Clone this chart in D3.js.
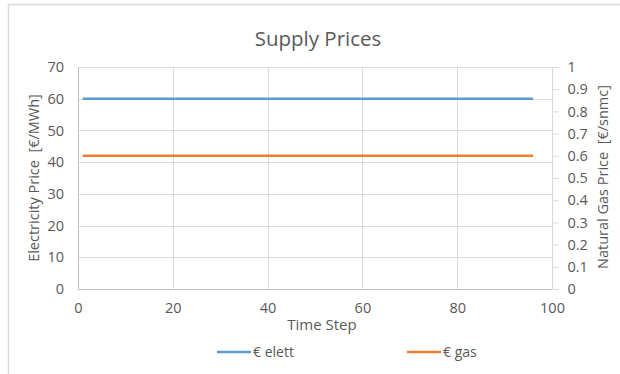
<!DOCTYPE html>
<html>
<head>
<meta charset="utf-8">
<script src="https://cdn.jsdelivr.net/npm/d3@7"></script>
<style>
  html, body { margin: 0; padding: 0; background: #fff; }
  svg { display: block; }
  text { font-family: "Open Sans", Lato, sans-serif; fill: #595959; white-space: pre; }
</style>
</head>
<body>
<svg id="chart" width="620" height="374"></svg>
<script>
// Time steps (quarter hours of one day)
const timeSteps = [
  1, 2, 3, 4, 5, 6, 7, 8, 9, 10, 11, 12, 13, 14, 15, 16,
  17, 18, 19, 20, 21, 22, 23, 24, 25, 26, 27, 28, 29, 30, 31, 32,
  33, 34, 35, 36, 37, 38, 39, 40, 41, 42, 43, 44, 45, 46, 47, 48,
  49, 50, 51, 52, 53, 54, 55, 56, 57, 58, 59, 60, 61, 62, 63, 64,
  65, 66, 67, 68, 69, 70, 71, 72, 73, 74, 75, 76, 77, 78, 79, 80,
  81, 82, 83, 84, 85, 86, 87, 88, 89, 90, 91, 92, 93, 94, 95, 96
];

// Electricity price [€/MWh], left axis
const elettPrice = [
  60, 60, 60, 60, 60, 60, 60, 60, 60, 60, 60, 60, 60, 60, 60, 60,
  60, 60, 60, 60, 60, 60, 60, 60, 60, 60, 60, 60, 60, 60, 60, 60,
  60, 60, 60, 60, 60, 60, 60, 60, 60, 60, 60, 60, 60, 60, 60, 60,
  60, 60, 60, 60, 60, 60, 60, 60, 60, 60, 60, 60, 60, 60, 60, 60,
  60, 60, 60, 60, 60, 60, 60, 60, 60, 60, 60, 60, 60, 60, 60, 60,
  60, 60, 60, 60, 60, 60, 60, 60, 60, 60, 60, 60, 60, 60, 60, 60
];

// Natural gas price [€/snmc], right axis
const gasPrice = [
  0.6, 0.6, 0.6, 0.6, 0.6, 0.6, 0.6, 0.6, 0.6, 0.6, 0.6, 0.6, 0.6, 0.6, 0.6, 0.6,
  0.6, 0.6, 0.6, 0.6, 0.6, 0.6, 0.6, 0.6, 0.6, 0.6, 0.6, 0.6, 0.6, 0.6, 0.6, 0.6,
  0.6, 0.6, 0.6, 0.6, 0.6, 0.6, 0.6, 0.6, 0.6, 0.6, 0.6, 0.6, 0.6, 0.6, 0.6, 0.6,
  0.6, 0.6, 0.6, 0.6, 0.6, 0.6, 0.6, 0.6, 0.6, 0.6, 0.6, 0.6, 0.6, 0.6, 0.6, 0.6,
  0.6, 0.6, 0.6, 0.6, 0.6, 0.6, 0.6, 0.6, 0.6, 0.6, 0.6, 0.6, 0.6, 0.6, 0.6, 0.6,
  0.6, 0.6, 0.6, 0.6, 0.6, 0.6, 0.6, 0.6, 0.6, 0.6, 0.6, 0.6, 0.6, 0.6, 0.6, 0.6
];

const xTicks = [0, 20, 40, 60, 80, 100];
const leftTicks = [0, 10, 20, 30, 40, 50, 60, 70];
const rightTicks = [0, 0.1, 0.2, 0.3, 0.4, 0.5, 0.6, 0.7, 0.8, 0.9, 1];

const seriesNames = ["€ elett", "€ gas"];
const seriesColors = ["#5b9bd5", "#ed7d31"];

const plot = { left: 78, right: 552, top: 67, bottom: 289 };
const gridColor = "#d9d9d9";
const tickFont = 14.5;

const svg = d3.select("#chart");

// chart frame (top and left edges)
svg.append("line").attr("x1", 8.5).attr("x2", 620).attr("y1", 4.5).attr("y2", 4.5)
  .attr("stroke", gridColor).attr("stroke-width", 1.5);
svg.append("line").attr("x1", 8.5).attr("x2", 8.5).attr("y1", 4.5).attr("y2", 374)
  .attr("stroke", gridColor).attr("stroke-width", 1.5);

const x = d3.scaleLinear().domain([0, 100]).range([plot.left, plot.right]);
const yL = d3.scaleLinear().domain([0, 70]).range([plot.bottom, plot.top]);
const yR = d3.scaleLinear().domain([0, 1]).range([plot.bottom, plot.top]);

// gridlines
svg.append("g").selectAll("line").data(leftTicks).join("line")
  .attr("x1", plot.left).attr("x2", plot.right)
  .attr("y1", d => Math.round(yL(d)) + 0.5).attr("y2", d => Math.round(yL(d)) + 0.5)
  .attr("stroke", gridColor);
svg.append("g").selectAll("line").data(xTicks).join("line")
  .attr("x1", d => Math.round(x(d)) + 0.5).attr("x2", d => Math.round(x(d)) + 0.5)
  .attr("y1", plot.top).attr("y2", plot.bottom)
  .attr("stroke", gridColor);

// left axis
const leftAxis = svg.append("g")
  .attr("transform", `translate(${plot.left},0)`)
  .call(d3.axisLeft(yL).tickValues(leftTicks).tickSize(0).tickPadding(14));
leftAxis.select(".domain").remove();
leftAxis.selectAll("text").attr("font-size", tickFont).attr("font-family", null).style("fill", "#595959");

// right axis with small outward ticks
const rightAxis = svg.append("g")
  .attr("transform", `translate(${plot.right + 0.5},0)`)
  .call(d3.axisRight(yR).tickValues(rightTicks).tickSize(6).tickPadding(9)
    .tickFormat(d => d3.format("")(+d.toFixed(1))));
rightAxis.select(".domain").attr("stroke", gridColor).attr("d", `M0,${plot.top}V${plot.bottom}`);
rightAxis.selectAll(".tick line").attr("stroke", gridColor);
rightAxis.selectAll("text").attr("font-size", tickFont).attr("font-family", null).style("fill", "#595959");

// bottom axis
const bottomAxis = svg.append("g")
  .attr("transform", `translate(0,${plot.bottom})`)
  .call(d3.axisBottom(x).tickValues(xTicks).tickSize(0).tickPadding(14));
bottomAxis.select(".domain").remove();
bottomAxis.selectAll("text").attr("font-size", tickFont).attr("font-family", null).style("fill", "#595959");

// axis lines
svg.append("line").attr("x1", plot.left + 0.5).attr("x2", plot.left + 0.5)
  .attr("y1", plot.top).attr("y2", plot.bottom + 0.5).attr("stroke", "#bfbfbf");
svg.append("line").attr("x1", plot.left).attr("x2", plot.right)
  .attr("y1", plot.bottom + 0.5).attr("y2", plot.bottom + 0.5).attr("stroke", "#bfbfbf");

// series lines
const lineL = d3.line().x((d, i) => x(timeSteps[i])).y(d => yL(d));
const lineR = d3.line().x((d, i) => x(timeSteps[i])).y(d => yR(d));
svg.append("path").datum(elettPrice).attr("d", lineL)
  .attr("fill", "none").attr("stroke", seriesColors[0]).attr("stroke-width", 2.5);
svg.append("path").datum(gasPrice).attr("d", lineR)
  .attr("fill", "none").attr("stroke", seriesColors[1]).attr("stroke-width", 2.5);

// title
svg.append("text").attr("x", 318).attr("y", 46).attr("text-anchor", "middle")
  .attr("font-size", 20.5).text("Supply Prices");

// axis titles
svg.append("text").attr("x", 322).attr("y", 330).attr("text-anchor", "middle")
  .attr("font-size", 15).text("Time Step");
svg.append("text").attr("transform", `translate(39,178) rotate(-90)`)
  .attr("text-anchor", "middle").attr("font-size", 14.5)
  .text("Electricity Price  [€/MWh]");
svg.append("text").attr("transform", `translate(608,177) rotate(-90)`)
  .attr("text-anchor", "middle").attr("font-size", 14.5)
  .text("Natural Gas Price  [€/snmc]");

// legend
const legendX = [217, 407];
const legend = svg.append("g").selectAll("g").data(seriesNames).join("g")
  .attr("transform", (d, i) => `translate(${legendX[i]},352)`);
legend.append("line").attr("x1", 0).attr("x2", 34).attr("y1", 0).attr("y2", 0)
  .attr("stroke", (d, i) => seriesColors[i]).attr("stroke-width", 2.5);
legend.append("text").attr("x", 36).attr("y", 5).attr("font-size", 14).text(d => d);
</script>
</body>
</html>
